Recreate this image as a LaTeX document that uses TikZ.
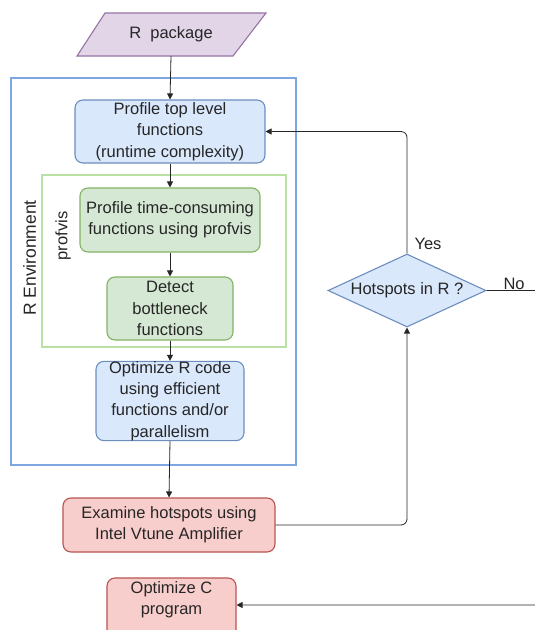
\documentclass[tikz,border=0pt]{standalone}
\usepackage{fontspec}
\setmainfont{Liberation Sans}
\usetikzlibrary{shapes.geometric,arrows.meta}
\definecolor{bluefill}{HTML}{DAE8FC}
\definecolor{bluedraw}{HTML}{6C8EBF}
\definecolor{outerblue}{HTML}{7EA6E0}
\definecolor{greenfill}{HTML}{D5E8D4}
\definecolor{greendraw}{HTML}{82B366}
\definecolor{outergreen}{HTML}{B9E0A5}
\definecolor{redfill}{HTML}{F8CECC}
\definecolor{reddraw}{HTML}{B85450}
\definecolor{purplefill}{HTML}{E1D5E7}
\definecolor{purpledraw}{HTML}{9673A6}
\tikzset{
  txt/.style={font=\fontsize{16.5}{21.3}\selectfont, align=center, text=black!85},
  bluebox/.style={txt, draw=bluedraw, fill=bluefill, rounded corners=8pt, line width=1.1pt, inner sep=0pt},
  greenbox/.style={txt, draw=greendraw, fill=greenfill, rounded corners=8pt, line width=1.1pt, inner sep=0pt},
  redbox/.style={txt, draw=reddraw, fill=redfill, rounded corners=8pt, line width=1.1pt, inner sep=0pt},
  conn/.style={draw=black!85, line width=0.8pt, -{Triangle[length=6pt,width=6pt]}},
}
\begin{document}
\begin{tikzpicture}[x=1pt,y=-1pt]
\clip (0,0) rectangle (535,630);
\fill[white] (0,0) rectangle (535,630);
% containers
\node[draw=outerblue, line width=1.2pt, minimum width=285pt, minimum height=387pt, inner sep=0pt] (renv) at (153.5,271.5) {};
\node[draw=outergreen, line width=1.4pt, minimum width=244pt, minimum height=172pt, inner sep=0pt] (profvisbox) at (164,261) {};
\node[font=\fontsize{17.5}{20}\selectfont, rotate=90, text=black!85] (renvlabel) at (29.5,258) {R Environment};
\node[font=\fontsize{16.5}{20}\selectfont, rotate=90, text=black!85] (profvislabel) at (63,236) {profvis};
% R package parallelogram
\path[draw=purpledraw, fill=purplefill, line width=1.1pt] (105,13) -- (266,13) -- (233,56) -- (77,56) -- cycle;
\node[txt] (rpkg) at (171,34.5) {R\ \ package};
\coordinate (rpkgb) at (171,56);
% boxes
\node[bluebox, minimum width=190pt, minimum height=63pt] (top) at (170,131.5) {Profile top level\\functions\\(runtime complexity)};
\node[greenbox, minimum width=180pt, minimum height=64pt] (ptc) at (170,220) {Profile time-consuming\\functions using profvis};
\node[greenbox, minimum width=126pt, minimum height=63pt] (detect) at (170,308.5) {Detect\\bottleneck\\functions};
\node[bluebox, minimum width=148pt, minimum height=78pt] (optr) at (170,401) {Optimize R code\\using efficient\\functions and/or\\parallelism};
\node[redbox, minimum width=212pt, minimum height=54pt] (exam) at (169,525) {Examine hotspots using\\Intel Vtune Amplifier};
\node[redbox, minimum width=129pt, minimum height=62pt, text depth=22pt] (optc) at (171.5,609) {Optimize C\\program};
% diamond
\node[draw=bluedraw, fill=bluefill, diamond, aspect=2.15, line width=1.1pt, inner sep=0pt, minimum width=158pt, minimum height=73pt, txt] (hot) at (407,290.5) {Hotspots in R ?};
\node[txt, anchor=south west] (yes) at (411,253) {Yes};
\node[txt, anchor=south west] (no) at (500,293) {No};
% connectors
\draw[conn] (rpkgb) -- (top.north);
\draw[conn] (top.south) -- (ptc.north);
\draw[conn] (ptc.south) -- (detect.north);
\draw[conn] (detect.south) -- (optr.north);
\draw[conn] (optr.south) -- (exam.north);
\draw[conn, rounded corners=6pt] (exam.east) -| (hot.south);
\draw[conn, rounded corners=6pt] (hot.north) |- (top.east);
\coordinate (offright) at (560,290.5);
\coordinate (offbot) at (560,605);
\draw[conn, rounded corners=6pt] (hot.east) -- (offright) -- (offbot) -- (optc.east |- offbot);
\end{tikzpicture}
\end{document}
